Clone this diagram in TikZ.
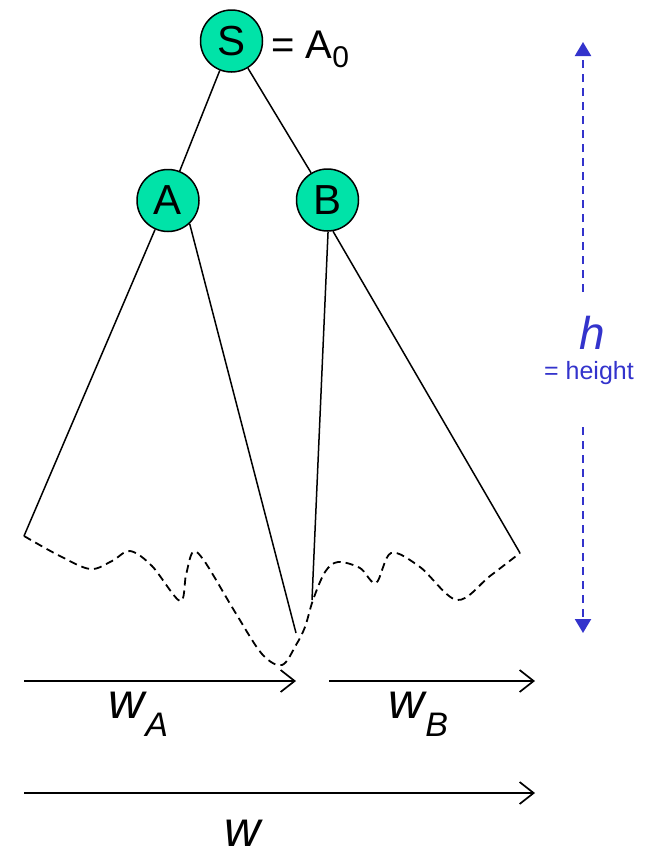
\documentclass[tikz,border=0pt]{standalone}
\usepackage{fontspec}
\setmainfont{Liberation Sans}
\usetikzlibrary{arrows.meta}
\definecolor{TreeGreen}{HTML}{00E3A8}
\definecolor{TreeBlue}{HTML}{3333CC}
\tikzset{
  treenode/.style={circle,draw=black,line width=1.5pt,fill=TreeGreen,
    minimum size=62pt,inner sep=0pt,font=\fontsize{42}{46}\selectfont},
  treeline/.style={line width=1.5pt},
  frontier/.style={line width=1.8pt,dash pattern=on 8pt off 5pt},
  widtharrow/.style={line width=1.7pt,
    -{Straight Barb[length=14pt,width=22pt,line width=1.7pt]}},
  heightarrow/.style={TreeBlue,line width=2.2pt,dash pattern=on 8pt off 6pt,
    -{Triangle[length=14pt,width=16pt]}},
  widthlabel/.style={inner sep=0pt,anchor=base west,
    font=\fontsize{50}{54}\selectfont\itshape},
}
\newcommand{\subtext}[1]{\kern1pt\raisebox{-18pt}{\fontsize{34}{36}\selectfont #1}}

\begin{document}
\begin{tikzpicture}[x=1pt,y=-1pt]
  \useasboundingbox (0,0) rectangle (648,855);

  % tree
  \node[treenode] (S) at (231.5,41) {S};
  \node[treenode] (A) at (168,200.5) {A};
  \node[treenode] (B) at (327.5,200) {B};
  \node[inner sep=0pt,anchor=base west,font=\fontsize{40}{44}\selectfont]
    (Szero) at (271,58) {= A\raisebox{-9pt}{\fontsize{30}{32}\selectfont 0}};

  \draw[treeline] (S) -- (A);
  \draw[treeline] (S) -- (B);

  \coordinate (Aleft) at (24,536);
  \coordinate (Aright) at (296,633);
  \coordinate (Bleft) at (312,600);
  \coordinate (Bright) at (520,553);

  \draw[treeline] (A.-114) -- (Aleft);
  \draw[treeline] (A.-47) -- (Aright);
  \draw[treeline] (B.-89) -- (Bleft);
  \draw[treeline] (B.-80) -- (Bright);

  % leaves
  \draw[frontier] plot[smooth,tension=0.55] coordinates {
    (24,536) (58,555) (90,569) (112,561) (130,551) (152,566) (180,601)
    (186,575) (193,552) (205,562) (235,612) (262,654) (282,665) (296,645)
    (305,627) (313,600) (325,572) (338,562) (360,568) (376,583)
    (391,553) (420,567) (457,600) (490,576) (520,553)};

  % widths
  \coordinate (wAstart) at (24,681);
  \coordinate (wAend) at (296,681);
  \coordinate (wBstart) at (329,681);
  \coordinate (wBend) at (535,681);
  \coordinate (wstart) at (24,793);
  \coordinate (wend) at (535,793);
  \draw[widtharrow] (wAstart) -- (wAend);
  \draw[widtharrow] (wBstart) -- (wBend);
  \draw[widtharrow] (wstart) -- (wend);

  \node[widthlabel] (wA) at (108,718) {w\subtext{A}};
  \node[widthlabel] (wB) at (388,718) {w\subtext{B}};
  \node[widthlabel] (w) at (224,846) {w};

  % height
  \node[TreeBlue,font=\fontsize{46}{50}\selectfont\itshape] (h) at (592,333) {h};
  \node[TreeBlue,font=\fontsize{25}{28}\selectfont] (hname) at (589,373) {= height};
  \coordinate (hup) at (583,292);
  \coordinate (htop) at (583,42);
  \coordinate (hdown) at (583,427);
  \coordinate (hbot) at (583,633);
  \draw[heightarrow] (hup) -- (htop);
  \draw[heightarrow] (hdown) -- (hbot);
\end{tikzpicture}
\end{document}
